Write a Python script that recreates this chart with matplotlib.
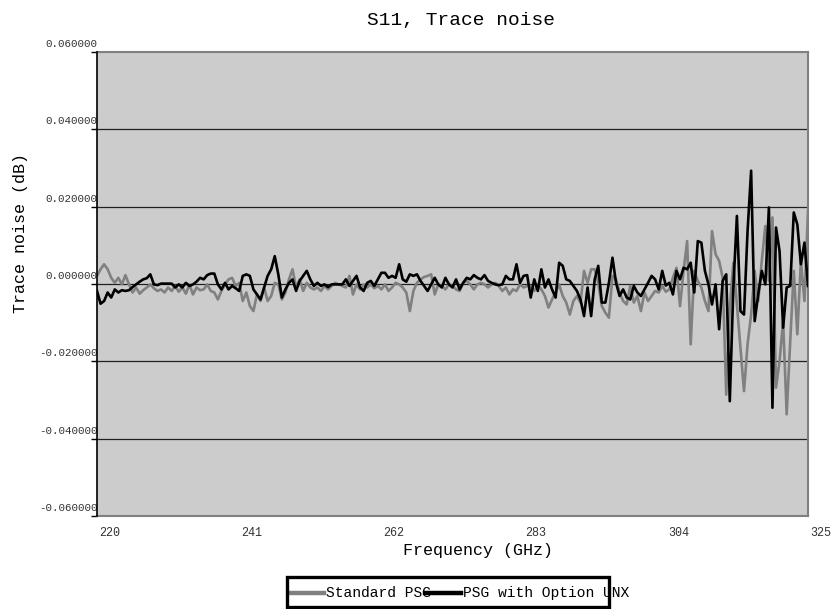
import numpy as np
import matplotlib
matplotlib.use("Agg")
import matplotlib.pyplot as plt
from matplotlib.lines import Line2D
from matplotlib.patches import Rectangle
from matplotlib.transforms import ScaledTranslation

plt.rcParams['font.family'] = ['Liberation Mono', 'DejaVu Sans Mono']

# ---- data ----
freq_start, freq_stop, n_points = 220.0, 325.0, 201
frequency = np.linspace(freq_start, freq_stop, n_points)

standard_psg = [
    0.0021, 0.0038, 0.0051, 0.0038, 0.0016, 0.0003, 0.0016, -0.0001, 0.0023, -0.0001,
    -0.0022, -0.0009, -0.0025, -0.0016, -0.0009, -0.0001, -0.0011, -0.0018, -0.0014, -0.0022,
    -0.0009, -0.0018, -0.0005, -0.0020, -0.0009, -0.0025, -0.0001, -0.0027, -0.0009, -0.0016,
    -0.0014, -0.0001, -0.0018, -0.0022, -0.0040, -0.0018, -0.0001, 0.0012, 0.0016, -0.0005,
    0.0003,
    -0.0044, -0.0022, -0.0057, -0.0070, -0.0027, -0.0044, -0.0009, -0.0044, -0.0031, 0.0003,
    -0.0001, -0.0040, -0.0022, 0.0012, 0.0038, -0.0009, 0.0012, -0.0018, 0.0003, -0.0009,
    -0.0014, -0.0009, -0.0018, -0.0005, -0.0014, -0.0005, 0.0003, -0.0001, -0.0005, -0.0009,
    0.0021, -0.0027, -0.0001, -0.0014, -0.0001, -0.0009, -0.0001, -0.0011, -0.0005, -0.0014,
    -0.0001, -0.0018, -0.0009, 0.0003, -0.0001, -0.0009, -0.0022, -0.0070, -0.0018, 0.0003,
    0.0012, 0.0018, 0.0021, 0.0025, -0.0027, -0.0001, -0.0005, -0.0014, -0.0001, -0.0005,
    -0.0014, -0.0018, 0.0003, 0.0008, -0.0001, -0.0014, -0.0001, 0.0003, -0.0001, -0.0009,
    -0.0001, 0.0003, -0.0005, -0.0018, -0.0009, -0.0027, -0.0014, -0.0018, -0.0001, -0.0009,
    -0.0005,
    -0.0005, -0.0018, -0.0001, -0.0014, -0.0031, -0.0061, -0.0040, -0.0022, -0.0001, -0.0031,
    -0.0048, -0.0079, -0.0044, -0.0031, -0.0048, 0.0034, 0.0003, 0.0038, 0.0038, 0.0003,
    -0.0057, -0.0074, -0.0087, 0.0021, 0.0012, -0.0022, -0.0044, -0.0053, -0.0005, -0.0048,
    -0.0031, -0.0070, -0.0022, -0.0044, -0.0031, -0.0018, -0.0022, -0.0005, -0.0020,
    -0.0014, 0.0016, 0.0042, -0.0057, 0.0034, 0.0111, -0.0156, 0.0034, 0.0008, -0.0009,
    -0.0044, -0.0070, 0.0137, 0.0077, 0.0060, 0.0016, -0.0286, -0.0061, 0.0055, -0.0053,
    -0.0165, -0.0277, -0.0156, -0.0079, 0.0034, -0.0044, 0.0060, 0.0150, 0.0008, 0.0172,
    -0.0268, -0.0199, -0.0096, -0.0337, -0.0148, 0.0034, -0.0130, 0.0060, -0.0044, 0.0189,
]

psg_option_unx = [
    -0.0018, -0.0051, -0.0044, -0.0022, -0.0035, -0.0014, -0.0022, -0.0016, -0.0018, -0.0016,
    -0.0008, -0.0001, 0.0006, 0.0012, 0.0015, 0.0025, -0.0001, -0.0003, 0.0001, 0.0001,
    0.0001, 0.0001, -0.0009, -0.0001, -0.0009, 0.0003, -0.0005, -0.0001, 0.0006, 0.0016,
    0.0012, 0.0023, 0.0027, 0.0027, -0.0001, -0.0014, 0.0003, -0.0014, -0.0005, -0.0011,
    -0.0018,
    0.0021, 0.0025, 0.0021, -0.0014, -0.0027, -0.0040, -0.0009, 0.0021, 0.0038, 0.0072,
    0.0025, -0.0035, -0.0014, 0.0003, 0.0012, -0.0018, 0.0008, 0.0021, 0.0034, 0.0012,
    -0.0005, 0.0003, -0.0005, -0.0001, -0.0008, -0.0001, -0.0001, -0.0001, -0.0001, 0.0012,
    -0.0005, 0.0008, 0.0021, -0.0009, -0.0018, 0.0003, 0.0008, -0.0005, 0.0012, 0.0029,
    0.0029, 0.0016, 0.0021, 0.0016, 0.0051, 0.0012, 0.0006, 0.0025, 0.0021, 0.0025,
    0.0008, -0.0005, -0.0018, -0.0001, 0.0016, -0.0001, -0.0009, 0.0016, -0.0001, -0.0009,
    0.0012, -0.0014, 0.0003, 0.0016, 0.0012, 0.0023, 0.0016, 0.0012, 0.0023, 0.0008,
    0.0003, -0.0001, -0.0003, -0.0001, 0.0021, 0.0012, 0.0012, 0.0051, 0.0003, 0.0021,
    0.0023,
    -0.0035, 0.0012, -0.0018, 0.0038, -0.0009, 0.0012, -0.0014, -0.0035, 0.0055, 0.0047,
    0.0012, 0.0008, -0.0005, -0.0018, -0.0040, -0.0083, -0.0009, -0.0083, 0.0012, 0.0047,
    -0.0048, -0.0048, 0.0003, 0.0068, 0.0003, -0.0031, -0.0014, -0.0035, -0.0040, -0.0005,
    -0.0022, -0.0031, -0.0014, 0.0003, 0.0021, 0.0012, -0.0014, 0.0034, -0.0004,
    0.0003, -0.0027, 0.0034, 0.0012, 0.0042, 0.0038, 0.0055, -0.0022, 0.0111, 0.0107,
    0.0034, -0.0001, -0.0053, -0.0001, -0.0117, 0.0008, 0.0025, -0.0303, -0.0009, 0.0176,
    -0.0070, -0.0079, 0.0137, 0.0293, -0.0096, -0.0027, 0.0034, -0.0001, 0.0198, -0.0320,
    0.0146, 0.0085, -0.0113, -0.0009, -0.0005, 0.0185, 0.0154, 0.0051, 0.0107, -0.0005,
]

x_ticks = [220, 241, 262, 283, 304, 325]
y_ticks = [-0.06, -0.04, -0.02, 0.0, 0.02, 0.04, 0.06]
y_tick_labels = ["-0.060000", "-0.040000", "-0.020000", "0.000000",
                 "0.020000", "0.040000", "0.060000"]
series_names = ["Standard PSG", "PSG with Option UNX"]
title_text = "S11, Trace noise"
x_label = "Frequency (GHz)"
y_label = "Trace noise (dB)"

# ---- figure ----
W, H = 831, 609
fig = plt.figure(figsize=(W / 100, H / 100), dpi=100)
fig.patch.set_facecolor("white")
ax = fig.add_axes([97 / W, 1 - 516 / H, 711 / W, 464 / H])
ax.set_facecolor("#cccccc")

ax.plot(frequency, standard_psg, color="#808080", lw=1.9, zorder=3)
ax.plot(frequency, psg_option_unx, color="black", lw=1.9, zorder=4)

ax.set_xlim(freq_start, freq_stop)
ax.set_ylim(-0.06, 0.06)

for v in y_ticks[1:-1]:
    ax.axhline(v, color="#202020", lw=0.9, zorder=2)

for side in ["top", "right", "bottom"]:
    ax.spines[side].set_color("#808080")
    ax.spines[side].set_linewidth(1.5)
ax.spines["left"].set_color("black")
ax.spines["left"].set_linewidth(1.2)
ax.spines["left"].set_zorder(5)

ax.set_yticks(y_ticks, labels=y_tick_labels)
ax.tick_params(axis="y", length=4, width=1, pad=0, labelsize=7.8, color="black")
for lbl in ax.get_yticklabels():
    lbl.set_verticalalignment("bottom")
    lbl.set_transform(lbl.get_transform() + ScaledTranslation(6 / 100, 3 / 100, fig.dpi_scale_trans))
    lbl.set_color("#333333")

ax.set_xticks(x_ticks, labels=[str(t) for t in x_ticks])
ax.tick_params(axis="x", length=0, pad=8, labelsize=8.5)
for lbl in ax.get_xticklabels():
    lbl.set_horizontalalignment("left")
    lbl.set_transform(lbl.get_transform() + ScaledTranslation(2 / 100, 0, fig.dpi_scale_trans))
    lbl.set_color("#333333")

ax.set_xlabel(x_label, fontsize=12)
ax.xaxis.set_label_coords((478 - 97) / 711, -(543 - 516) / 464)
ax.set_ylabel(y_label, fontsize=12)
ax.yaxis.set_label_coords(-0.097, 0.61)

fig.text(461 / W, 1 - 20 / H, title_text, ha="center", va="center", fontsize=14)

# ---- legend (drawn in figure pixels) ----
def fx(px):
    return px / W

def fy(py):
    return 1 - py / H

fig.patches.append(Rectangle((fx(287), fy(607)), fx(609) - fx(287), fy(577) - fy(607),
                             transform=fig.transFigure, facecolor="white", edgecolor="none",
                             zorder=1))
fig.lines.append(Line2D([fx(291), fx(324)], [fy(593), fy(593)], transform=fig.transFigure,
                        color="#808080", lw=3.2, zorder=2))
fig.text(fx(326), fy(593), series_names[0], ha="left", va="center", fontsize=10.5, zorder=3)
fig.lines.append(Line2D([fx(425), fx(461)], [fy(593), fy(593)], transform=fig.transFigure,
                        color="black", lw=3.2, zorder=4))
fig.text(fx(463), fy(593), series_names[1], ha="left", va="center", fontsize=10.5, zorder=3)
fig.patches.append(Rectangle((fx(287), fy(607)), fx(609) - fx(287), fy(577) - fy(607),
                             transform=fig.transFigure, facecolor="none", edgecolor="black",
                             lw=2.4, zorder=5))

fig.savefig("out.png", dpi=100)
